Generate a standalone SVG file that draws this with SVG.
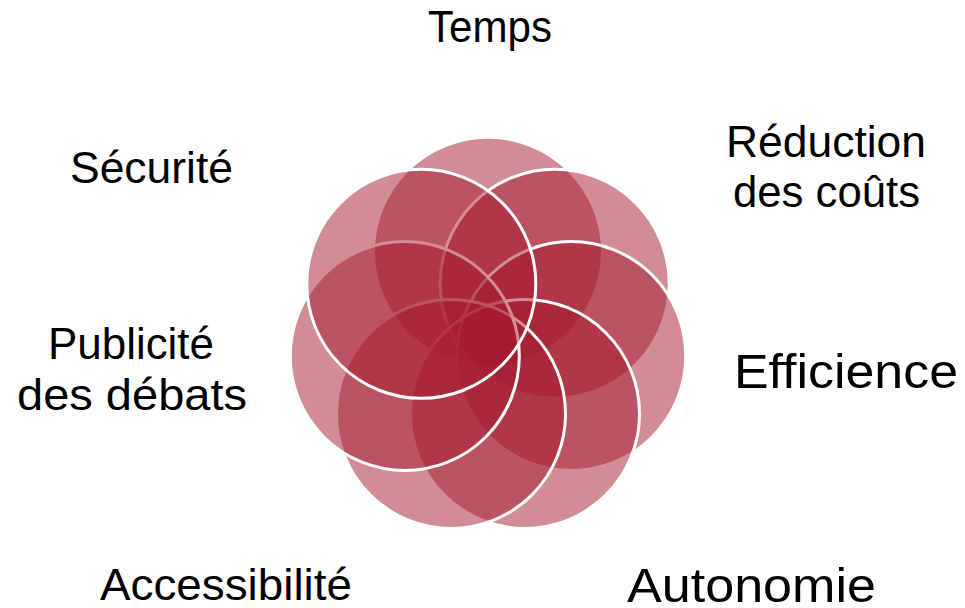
<svg xmlns="http://www.w3.org/2000/svg" width="965" height="608" viewBox="0 0 965 608">
<style>
.c{fill:#A6192E;fill-opacity:0.5;stroke:#FFFFFF;stroke-width:3}
.t{font-family:"Liberation Sans","DejaVu Sans",sans-serif;font-size:44px;fill:#000000}
.b{font-size:48px}
</style>
<rect width="965" height="608" fill="#FFFFFF"/>
<g id="rosette">
<circle id="c0" class="c" cx="488" cy="251.7" r="114.5"/>
<circle id="c1" class="c" cx="554.7" cy="283.8" r="114.5"/>
<circle id="c2" class="c" cx="571.2" cy="356" r="114.5"/>
<circle id="c3" class="c" cx="525" cy="413.9" r="114.5"/>
<circle id="c4" class="c" cx="451" cy="413.9" r="114.5"/>
<circle id="c5" class="c" cx="404.8" cy="356" r="114.5"/>
<circle id="c6" class="c" cx="421.3" cy="283.8" r="114.5"/>
</g>
<g id="labels">
<g id="temps"><text class="t" x="428" y="42" textLength="124" lengthAdjust="spacingAndGlyphs">Temps</text></g>
<g id="securite"><text class="t" x="70" y="183" textLength="163" lengthAdjust="spacingAndGlyphs">Sécurité</text></g>
<g id="reduction"><text class="t" x="726" y="157" textLength="200" lengthAdjust="spacingAndGlyphs">Réduction</text>
<text class="t" x="733" y="207" textLength="187" lengthAdjust="spacingAndGlyphs">des coûts</text></g>
<g id="efficience"><text class="t b" x="734" y="388" textLength="224" lengthAdjust="spacingAndGlyphs">Efficience</text></g>
<g id="publicite"><text class="t" x="48" y="359" textLength="166" lengthAdjust="spacingAndGlyphs">Publicité</text>
<text class="t" x="17" y="410" textLength="230" lengthAdjust="spacingAndGlyphs">des débats</text></g>
<g id="accessibilite"><text class="t" x="100" y="600" textLength="252" lengthAdjust="spacingAndGlyphs">Accessibilité</text></g>
<g id="autonomie"><text class="t b" x="627" y="602" textLength="249" lengthAdjust="spacingAndGlyphs">Autonomie</text></g>
</g>
</svg>
